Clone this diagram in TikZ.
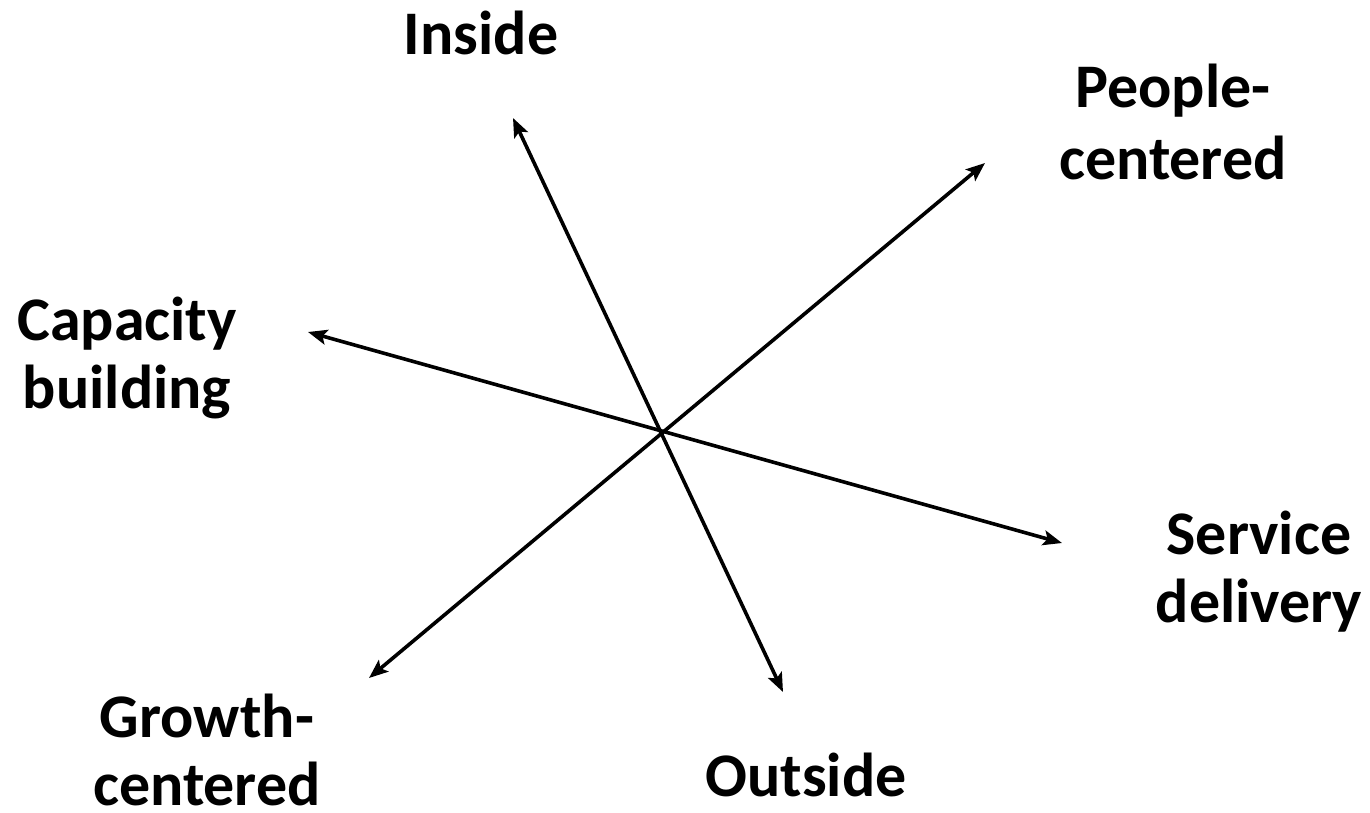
\documentclass[tikz,border=0pt]{standalone}
\usepackage{fontspec}
\setmainfont{Carlito}
\usetikzlibrary{arrows.meta}
\tikzset{
  axis/.style={line width=3.6pt, {Stealth[length=19pt,width=15pt,inset=4pt]}-{Stealth[length=19pt,width=15pt,inset=4pt]}},
  lbl/.style={font=\bfseries\fontsize{62}{68}\selectfont, align=center, inner sep=0pt},
}
\begin{document}
\begin{tikzpicture}[x=1pt,y=-1pt]
\useasboundingbox (0,0) rectangle (1370,812);
\coordinate (in) at (513,118);
\coordinate (out) at (783,692);
\coordinate (pc) at (985,163);
\coordinate (gc) at (369,678);
\coordinate (cb) at (308,332);
\coordinate (sd) at (1062,543);
\draw[axis] (in) -- (out);
\draw[axis] (pc) -- (gc);
\draw[axis] (cb) -- (sd);
\node[lbl] (tin) at (481,33) {Inside};
\node[lbl, font=\bfseries\fontsize{62}{72}\selectfont] (tpc) at (1173,122) {People-\\centered};
\node[lbl] (tcb) at (127,358) {Capacity\\building};
\node[lbl] (tsd) at (1259,572) {Service\\delivery};
\node[lbl] (tgc) at (207,750) {Growth-\\centered};
\node[lbl] (tout) at (806,775) {Outside};
\end{tikzpicture}
\end{document}
